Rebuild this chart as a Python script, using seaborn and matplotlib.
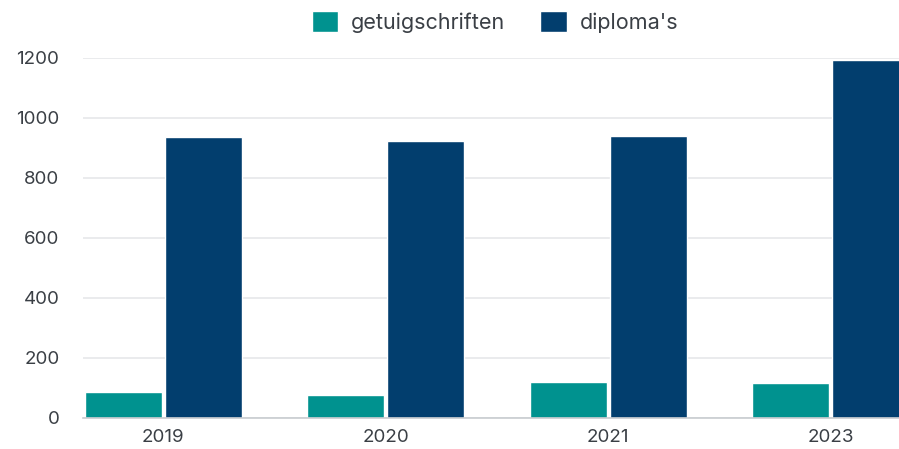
import matplotlib
matplotlib.use("Agg")
import matplotlib.pyplot as plt
import numpy as np
import pandas as pd
import seaborn as sns

years = ["2019", "2020", "2021", "2023"]
getuigschriften = [88, 78, 120, 117]
diplomas = [936, 923, 940, 1193]
series_names = ["getuigschriften", "diploma's"]
colors = ["#00928f", "#023e6e"]

df = pd.DataFrame({
    "jaar": years * 2,
    "aantal": getuigschriften + diplomas,
    "soort": [series_names[0]] * len(years) + [series_names[1]] * len(years),
})

sns.set_theme(style="white")
plt.rcParams["font.family"] = ["Inter", "DejaVu Sans"]
text_color = "#3a3f45"

fig = plt.figure(figsize=(8.99, 4.49), dpi=100)
ax = fig.add_axes([83 / 899, 31 / 449, 1 - 83 / 899, 360 / 449])

sns.barplot(data=df, x="jaar", y="aantal", hue="soort", palette=colors,
            width=0.72, gap=0.04, saturation=1, ax=ax, legend=True)

ax.set_xlim(-0.36, 3.306)
ax.set_ylim(0, 1200)
ax.set_yticks(np.arange(0, 1201, 200))
ax.yaxis.grid(True, color="#e6e8ea", linewidth=1.2)
ax.set_axisbelow(True)
for s in ["top", "right", "left"]:
    ax.spines[s].set_visible(False)
ax.spines["bottom"].set_color("#c8ccd0")
ax.spines["bottom"].set_linewidth(1.2)
ax.set_xlabel("")
ax.set_ylabel("")
ax.tick_params(axis="y", length=0, pad=17, labelsize=13.5, labelcolor=text_color)
ax.tick_params(axis="x", length=0, pad=8, labelsize=13.5, labelcolor=text_color)

handles, labels = ax.get_legend_handles_labels()
ax.legend_.remove()
fig.legend(handles, labels, loc="center", bbox_to_anchor=(495 / 899, 1 - 22 / 449),
           ncol=2, frameon=False, fontsize=15.5, handlelength=1.25, handleheight=1.1,
           handletextpad=0.6, columnspacing=1.6, labelcolor=text_color)

fig.savefig("out.png", dpi=100)
